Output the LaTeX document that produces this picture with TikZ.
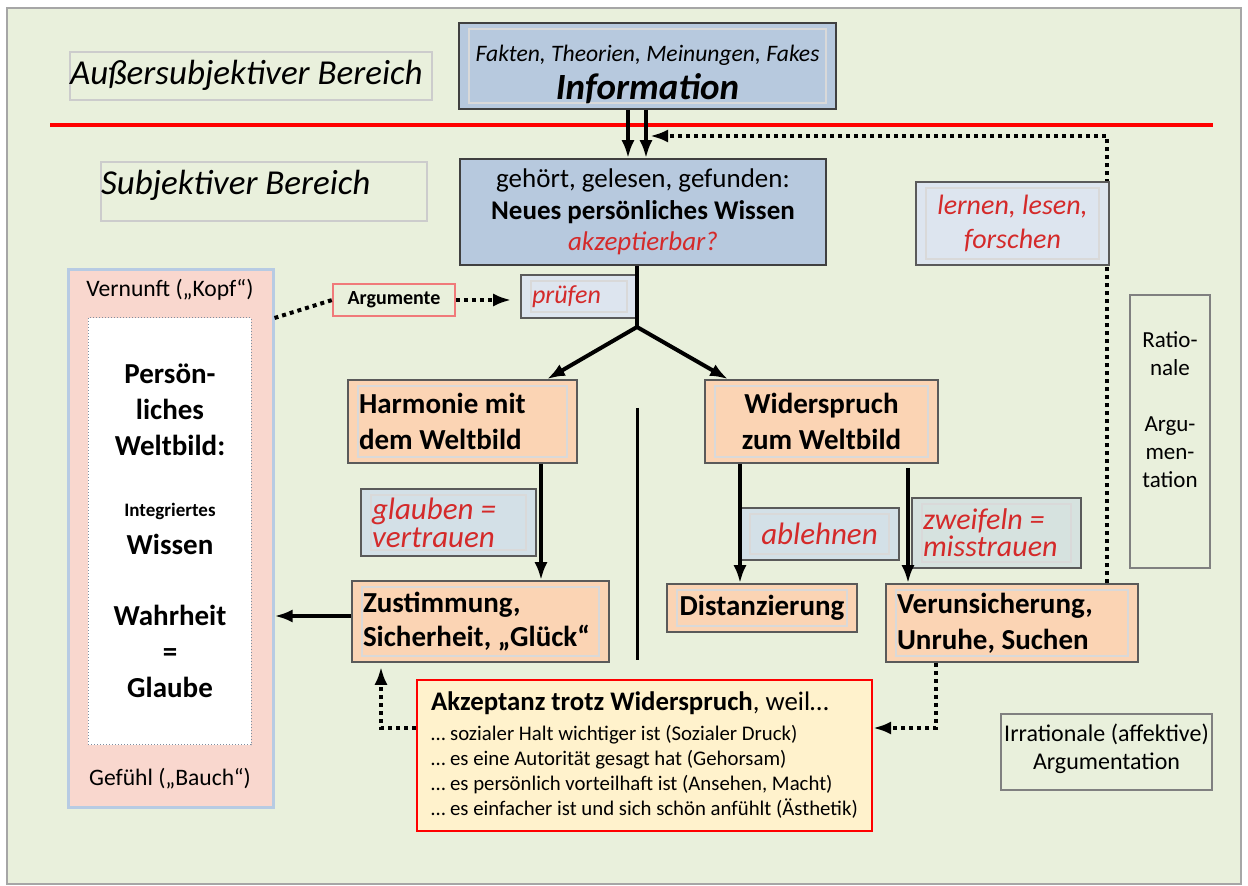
\documentclass[tikz,border=0pt]{standalone}
\usepackage{fontspec}
\setmainfont{Carlito}
\usepackage{xcolor}
\usepackage{tikz}
\usetikzlibrary{positioning,shapes,arrows.meta}

\definecolor{bggreen}{HTML}{E9F0DC}
\definecolor{infoblue}{HTML}{B7C9DE}
\definecolor{paleblue}{HTML}{DDE5EF}
\definecolor{grayblue}{HTML}{D3E0E7}
\definecolor{greengray}{HTML}{D6E2DF}
\definecolor{peach}{HTML}{FBD4B4}
\definecolor{rosa}{HTML}{F9D7CE}
\definecolor{boxblue}{HTML}{B7CBE3}
\definecolor{cream}{HTML}{FFF2CC}
\definecolor{textred}{HTML}{D42A2A}
\definecolor{edge}{HTML}{5A5A5A}
\definecolor{argred}{HTML}{F07A7A}

\newcommand{\fsz}[2]{\fontsize{#1}{#2}\selectfont}

\begin{document}
\begin{tikzpicture}[x=0.5pt, y=-0.5pt, node distance=10pt and 10pt,
  base/.style={rectangle, inner sep=0pt},
  frame/.style={base, draw=edge, line width=0.8pt},
  inframe/.style={path picture={\draw[black!15, line width=0.6pt] ([shift={(5pt,-3pt)}]path picture bounding box.north west) rectangle ([shift={(-5pt,3pt)}]path picture bounding box.south east);}},
  bluebox/.style={frame, draw=black!75, fill=infoblue, align=center},
  peachbox/.style={frame, fill=peach, inframe, inner xsep=5.5pt, font=\bfseries\fsz{14.5}{18}},
  notebox/.style={frame, fill=paleblue, inframe, inner xsep=5.5pt, text=textred},
  areabox/.style={base, draw=black!20, line width=0.6pt, align=flush left},
  sidebox/.style={base, draw=black!50, line width=0.8pt, align=center},
  arr/.style={line width=2pt, -{Latex[length=9pt,width=6.5pt]}},
  dotline/.style={line width=2pt, dash pattern=on 2pt off 2pt},
  dotarr/.style={dotline, -{Latex[length=9pt,width=6.5pt]}}]

  \useasboundingbox (0,0) rectangle (1248,886);
  \draw[fill=bggreen, draw=black!35, line width=1pt] (7,8) rectangle (1241,884);

  \node[areabox, text width=181pt, text height=16.5pt, text depth=7.5pt, font=\itshape\fsz{17.5}{21}] (aussen) at (251,76) {Außersubjektiver Bereich};
  \node[areabox, text width=163pt, text height=16.5pt, text depth=13pt, font=\itshape\fsz{17.5}{21}] (innen) at (264,191.5) {Subjektiver Bereich};
  \draw[red, line width=1.6pt] (50,125) -- (1213,125);

  \node[bluebox, inframe, minimum width=188.5pt, minimum height=43pt, font=\fsz{11.8}{17}] (info) at (647.5,66) {\rule{0pt}{17pt}{\itshape Fakten, Theorien, Meinungen, Fakes}\\[2pt]{\bfseries\itshape\fsz{18.5}{20}Information}};
  \node[bluebox, minimum width=183pt, minimum height=53pt, font=\fsz{13.5}{15.75}] (neues) at (643,212) {gehört, gelesen, gefunden:\\\textbf{Neues persönliches Wissen}\\\textcolor{textred}{\itshape akzeptierbar?}};

  \node[base, draw=boxblue, line width=1.5pt, fill=rosa, minimum width=102.5pt, minimum height=269pt] (weltbild) at (170.5,539) {};
  \node[base, draw=boxblue!70!black, densely dotted, line width=0.5pt, fill=white, minimum width=81.5pt, minimum height=213.5pt] (kern) at (169.5,531.5) {};
  \node[font=\fsz{11.8}{13}] (kopf) at (170,290) {Vernunft („Kopf“)};
  \node[font=\fsz{11.8}{13}] (bauch) at (170,779) {Gefühl („Bauch“)};
  \node[align=center, font=\bfseries\fsz{14.5}{18}] (persoen) at (170,410) {Persön-\\liches\\Weltbild:};
  \node[font=\bfseries\fsz{9.5}{11}] (integr) at (170,511) {Integriertes};
  \node[font=\bfseries\fsz{14.5}{18}] (wissen) at (170,544) {Wissen};
  \node[align=center, font=\bfseries\fsz{14.5}{18}] (wahrheit) at (170,651) {Wahrheit\\=\\Glaube};

  \node[base, draw=argred, line width=0.8pt, minimum width=61pt, minimum height=16pt, font=\bfseries\fsz{10}{12}] (argum) at (394,300) {Argumente};
  \node[notebox, text width=47pt, align=flush left, minimum height=21.5pt, font=\itshape\fsz{13}{15}] (pruefen) at (579,296.5) {prüfen};

  \node[peachbox, text width=103.5pt, align=flush left, minimum height=41.5pt] (harmonie) at (462.5,421.5) {Harmonie mit\\dem Weltbild};
  \node[peachbox, minimum width=116.5pt, align=center, minimum height=41.5pt] (wider) at (821.5,421.5) {Widerspruch\\zum Weltbild};
  \node[notebox, fill=grayblue, text width=76.5pt, align=flush left, minimum height=33.5pt, font=\itshape\fsz{15.5}{14}] (glauben) at (448.5,522.5) {glauben =\\vertrauen};
  \node[peachbox, text width=117.5pt, align=flush left, minimum height=40.5pt, font=\bfseries\fsz{14.5}{17}] (zustimmung) at (480.5,621.5) {Zustimmung,\\Sicherheit, „Glück“};
  \node[notebox, fill=grayblue, minimum width=79.5pt, minimum height=26pt, font=\itshape\fsz{15.5}{18}] (ablehnen) at (819.5,534) {ablehnen};
  \node[notebox, fill=greengray, text width=73.5pt, align=flush left, minimum height=35pt, font=\itshape\fsz{15}{13.5}] (zweifeln) at (996.5,533) {zweifeln =\\misstrauen};
  \node[peachbox, minimum width=95pt, minimum height=24pt] (distanz) at (762,608) {Distanzierung};
  \node[peachbox, text width=115pt, align=flush left, minimum height=39pt] (verun) at (1012,623) {Verunsicherung,\\Unruhe, Suchen};

  \node[base, draw=red, line width=1pt, fill=cream, minimum width=227.5pt, minimum height=75.5pt, align=left, font=\fsz{10.4}{12.5}] (akzept) at (644.5,755.5) {{\fsz{13.4}{15}\textbf{Akzeptanz trotz Widerspruch}, weil…}\\[2.5pt]… sozialer Halt wichtiger ist (Sozialer Druck)\\… es eine Autorität gesagt hat (Gehorsam)\\… es persönlich vorteilhaft ist (Ansehen, Macht)\\… es einfacher ist und sich schön anfühlt (Ästhetik)};

  \node[sidebox, minimum width=40pt, minimum height=136.5pt] (ratbox) at (1170,431.5) {};
  \node[align=center, font=\fsz{11.5}{14}] (rattxt) at (1170,410) {Ratio-\\nale\\[14pt]Argu-\\men-\\tation};
  \node[sidebox, minimum width=105.5pt, minimum height=38pt, font=\fsz{12}{14}] (irrat) at (1106.5,752) {Irrationale (affektive)\\Argumentation\rule[-5pt]{0pt}{5pt}};

  \coordinate (fork) at (637,327);
  \coordinate (merge) at (650,136);

  \draw[arr] (info.south -| 628,0) -- (neues.north -| 628,0);
  \draw[arr] (info.south -| 646,0) -- (neues.north -| 646,0);
  \draw[dotarr] (verun.north -| 1107,0) |- (merge);
  \draw[line width=2pt] (neues.south -| fork) -- (fork);
  \draw[arr] (fork) -- (harmonie.north -| 547,0);
  \draw[arr] (fork) -- (wider.north -| 728,0);
  \draw[dotline] (weltbild.east |- 0,318) -- (argum.west);
  \draw[dotarr, shorten >=4.5pt] (argum.east) -- (pruefen.west |- argum);
  \draw[line width=1.5pt] (637,408) -- (637,660);
  \draw[arr] (harmonie.south -| 541,0) -- (zustimmung.north -| 541,0);
  \draw[arr] (wider.south -| 740,0) -- (distanz.north -| 740,0);
  \draw[arr] ([yshift=-2pt]wider.south -| 908,0) -- (verun.north -| 908,0);
  \draw[arr] (zustimmung.west |- 0,616) -- (weltbild.east |- 0,616);
  \draw[dotarr] (verun.south -| 936,0) |- (akzept.east |- 0,728);
  \draw[dotarr, shorten >=2pt] (akzept.west |- 0,728) -| (zustimmung.south -| 381,0);

  \node[notebox, minimum width=96.5pt, align=center, minimum height=41.5pt, font=\itshape\fsz{14}{17}] (lernen) at (1012.5,223.5) {lernen, lesen,\\forschen};
\end{tikzpicture}
\end{document}
